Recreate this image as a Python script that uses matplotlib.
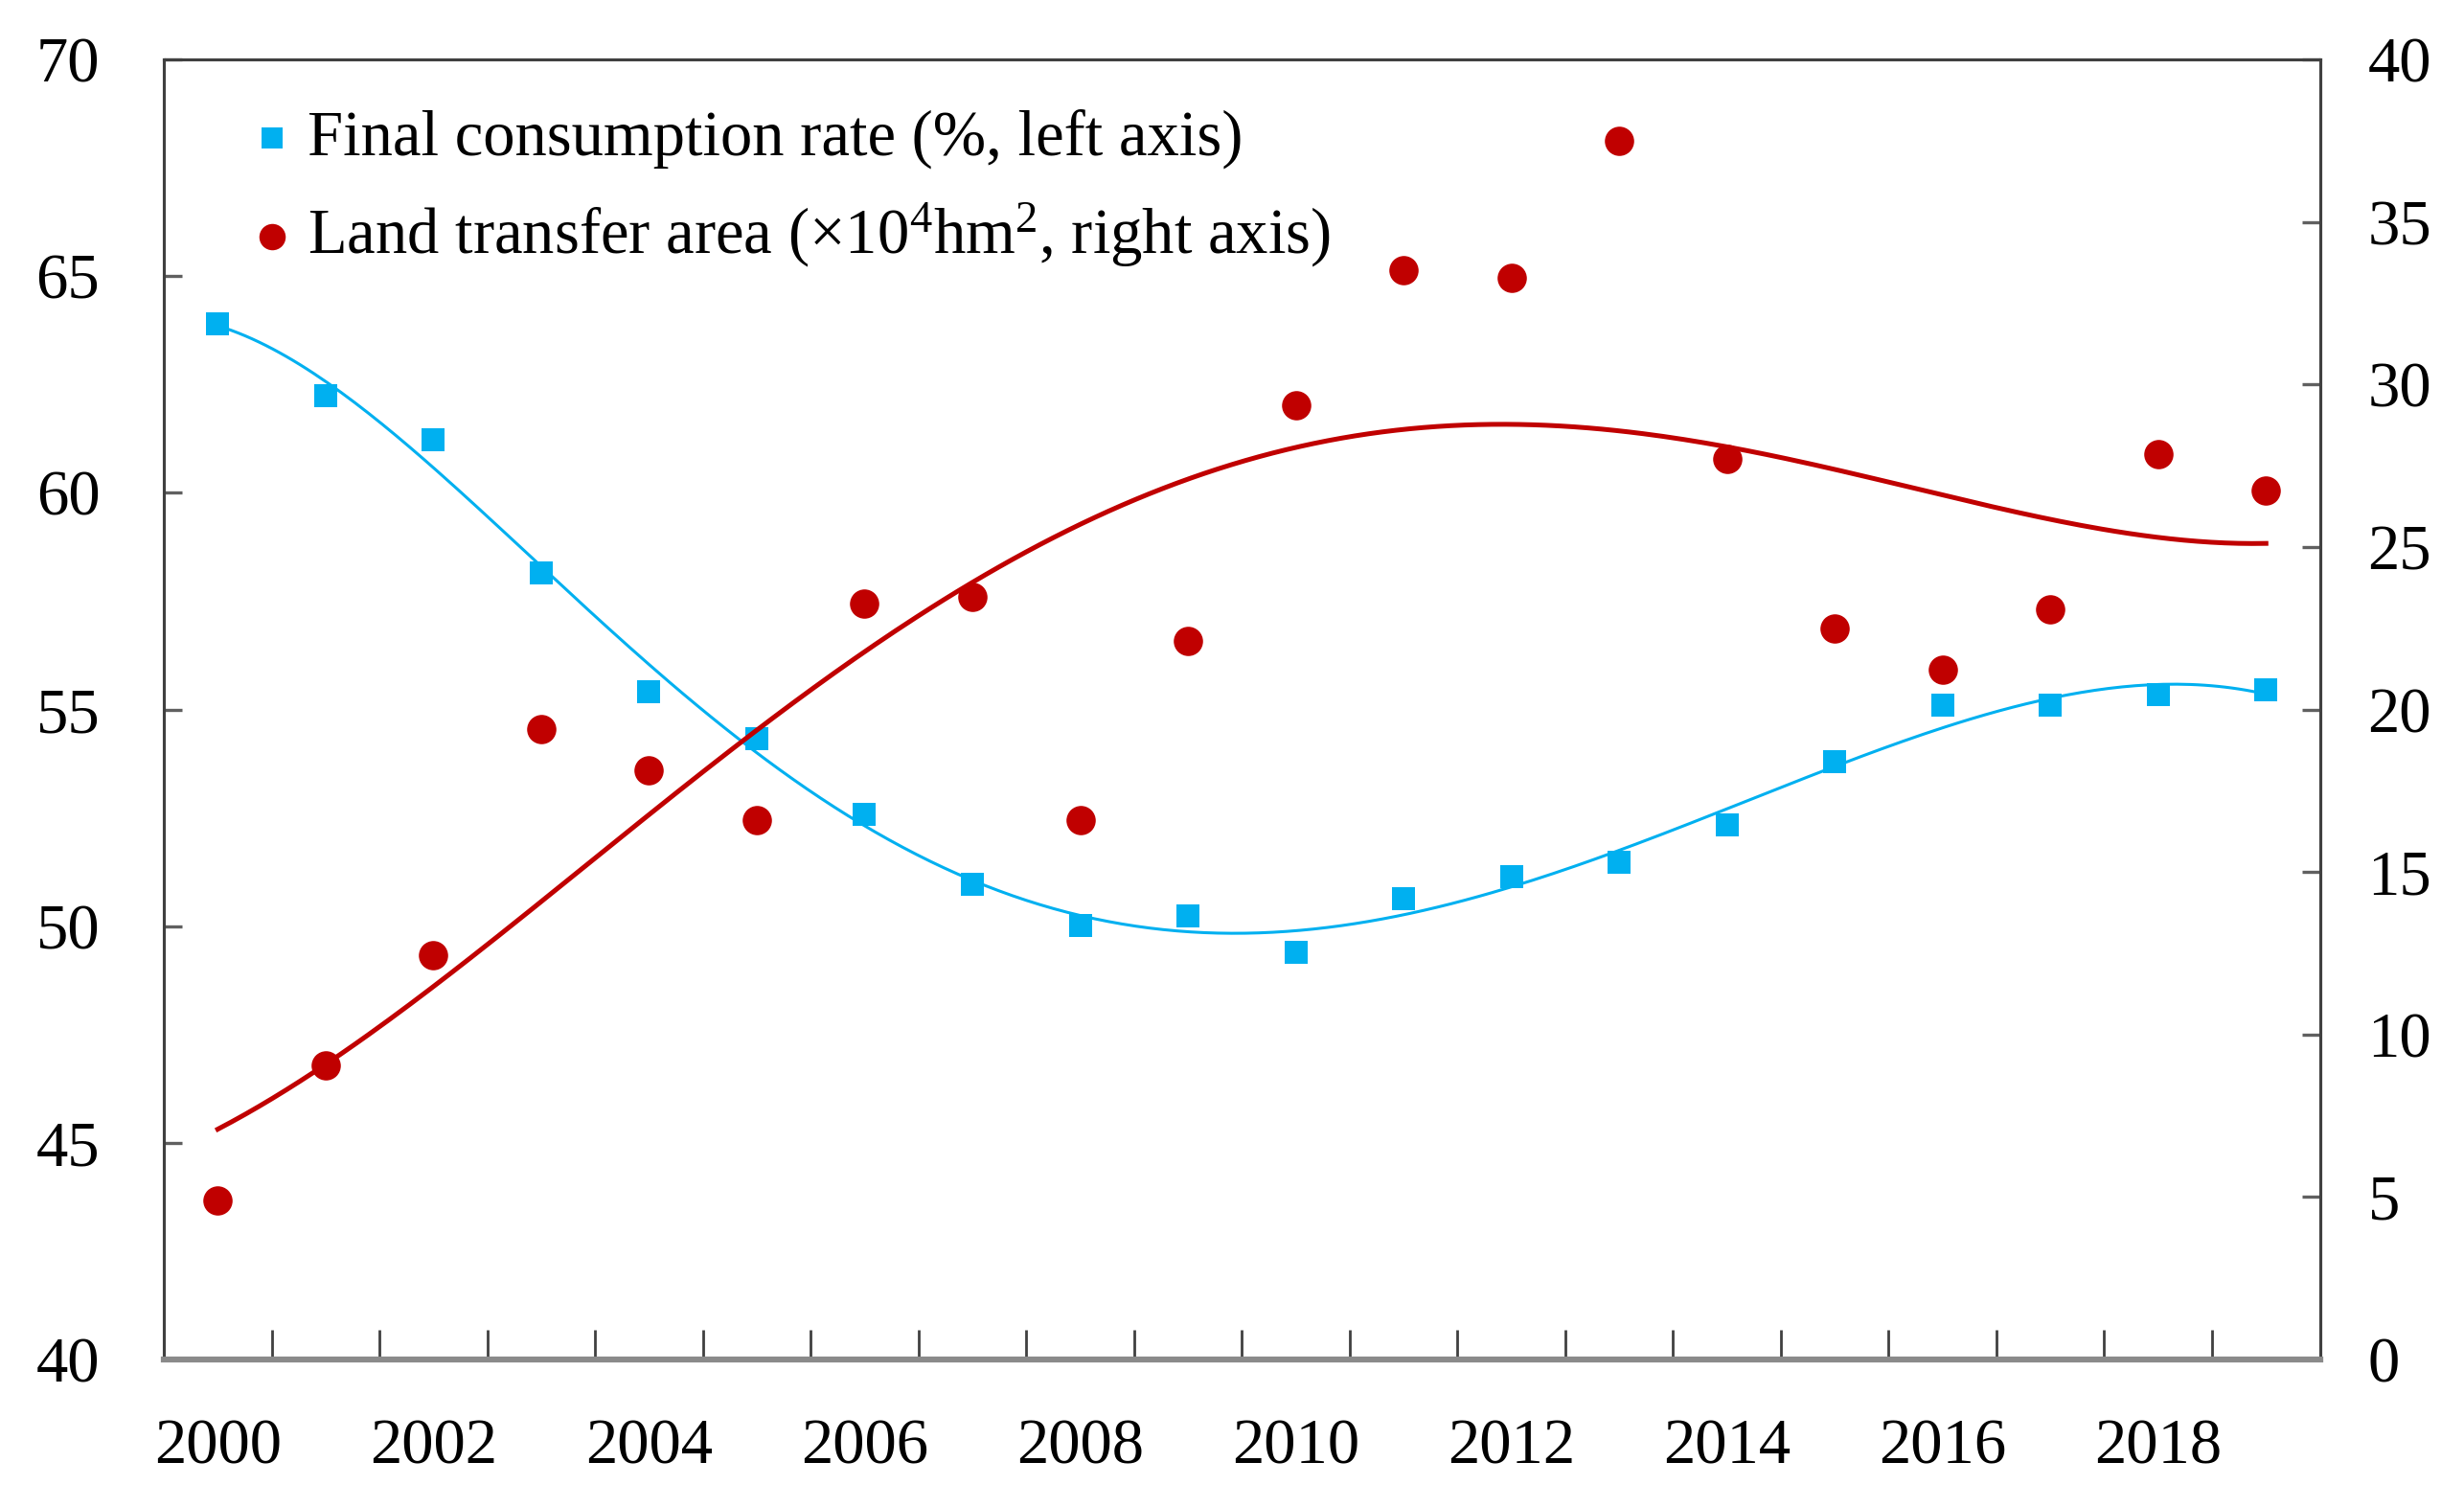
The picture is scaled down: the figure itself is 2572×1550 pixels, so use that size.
import numpy as np
import matplotlib
matplotlib.use('Agg')
import matplotlib.pyplot as plt
from matplotlib.ticker import MultipleLocator, FixedLocator

plt.rcParams['font.family'] = ['Liberation Serif', 'DejaVu Serif']
plt.rcParams['mathtext.fontset'] = 'custom'
plt.rcParams['mathtext.rm'] = 'Liberation Serif'
plt.rcParams['mathtext.it'] = 'Liberation Serif:italic'

years = np.arange(2000, 2020)

consumption_rate = [63.9, 62.24, 61.22, 58.14, 55.42, 54.33, 52.59, 50.96, 50.01, 50.23,
                    49.40, 50.63, 51.14, 51.47, 52.34, 53.79, 55.09, 55.09, 55.35, 55.46]
land_transfer = [4.89, 9.04, 12.43, 19.4, 18.14, 16.59, 23.26, 23.46, 16.59, 22.1,
                 29.36, 33.52, 33.28, 37.48, 27.71, 22.49, 21.23, 23.07, 27.86, 26.75]

label_rate = 'Final consumption rate (%, left axis)'
label_land = r'Land transfer area (×10$^{4}$hm$^{2}$, right axis)'

blue = '#00B0F0'
red = '#C00000'
spine_col = '#404040'

fig = plt.figure(figsize=(12.86, 7.75), dpi=200)
ax1 = fig.add_axes([0.0665, 0.0845, 0.875, 0.8755])
ax2 = ax1.twinx()

# polynomial trend lines fitted to the scatter data
xc = years - 2009.5
xs = np.linspace(years[0], years[-1], 300)
fit_rate = np.polyfit(xc, consumption_rate, 6)
fit_land = np.polyfit(xc, land_transfer, 4)

s1 = ax1.scatter(years, consumption_rate, marker='s', s=8.5**2, color=blue,
                 linewidths=0, zorder=2, label=label_rate)
ax1.plot(xs, np.polyval(fit_rate, xs - 2009.5), color=blue, lw=1.1, zorder=3)

s2 = ax2.scatter(years, land_transfer, marker='o', s=11**2, color=red,
                 linewidths=0, zorder=2, label=label_land)
ax2.plot(xs, np.polyval(fit_land, xs - 2009.5), color=red, lw=1.8, zorder=3)

ax1.set_xlim(1999.5, 2019.5)
ax1.set_ylim(40, 70)
ax2.set_ylim(0, 40)
ax1.yaxis.set_major_locator(MultipleLocator(5))
ax2.yaxis.set_major_locator(MultipleLocator(5))

ax1.set_xticks(np.arange(2000, 2019, 2))
ax1.xaxis.set_minor_locator(FixedLocator(np.arange(2000.5, 2019, 1)))
ax1.tick_params(axis='x', which='major', length=0, pad=22, labelsize=24)
ax1.tick_params(axis='x', which='minor', direction='in', length=11, width=1.0, color=spine_col)
ax1.tick_params(axis='y', direction='in', length=7, width=1.2, color='#606060', pad=24, labelsize=24)
ax2.tick_params(axis='y', direction='in', length=7, width=1.2, color='#606060', pad=18, labelsize=24)

for ax in (ax1, ax2):
    for side in ('top', 'left', 'right'):
        ax.spines[side].set_color(spine_col)
        ax.spines[side].set_linewidth(1.1)
    ax.spines['bottom'].set_color('#8a8a8a')
    ax.spines['bottom'].set_linewidth(2.2)

ax2.legend(handles=[s1, s2], loc='upper left', bbox_to_anchor=(0.043, 0.962),
           frameon=False, fontsize=24, handlelength=0.5, handletextpad=0.3,
           labelspacing=0.5, borderpad=0, borderaxespad=0, markerscale=0.9)

fig.savefig('out.png', dpi=200)
